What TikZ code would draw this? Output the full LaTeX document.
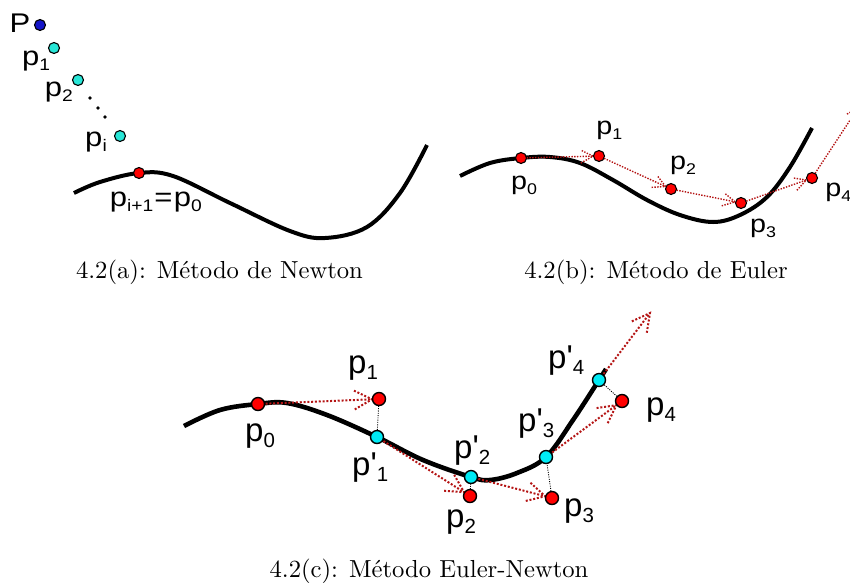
\documentclass[tikz,border=0pt]{standalone}
\usepackage{fontspec}
\usepackage{graphicx}
\usetikzlibrary{calc}
\newfontfamily\labfont{Liberation Sans}
\newfontfamily\capfont{lmroman10-regular}[Extension=.otf]
\definecolor{dotred}{RGB}{255,0,0}
\definecolor{dotcyan}{RGB}{40,230,215}
\definecolor{dotcyanc}{RGB}{0,235,245}
\definecolor{dotblue}{RGB}{20,20,200}
\definecolor{arrred}{RGB}{180,20,20}
\newcommand\lsub[1]{\raisebox{-0.2em}{\scalebox{0.62}{#1}}}
\newcommand\prm{\XeTeXglyph\XeTeXcharglyph"27\relax}
\newcommand\evarrow[4]{%
  \draw[#1] (#2) -- (#3);
  \draw[#1] ($(#3)!#4!28:(#2)$) -- (#3) -- ($(#3)!#4!-28:(#2)$);}
\begin{document}
\begin{tikzpicture}[x=1pt,y=-1pt,
  curveAB/.style={line width=4pt,black},
  curveC/.style={line width=4.6pt,black},
  dotAB/.style={circle,draw=black,line width=1.1pt,minimum size=11pt,inner sep=0pt},
  dotC/.style={circle,draw=black,line width=1.4pt,minimum size=13pt,inner sep=0pt},
  smalldot/.style={circle,fill=black,minimum size=3.6pt,inner sep=0pt},
  arrB/.style={draw=arrred,line width=1.4pt,dash pattern=on 1.4pt off 1.4pt},
  arrC/.style={draw=arrred,line width=2pt,dash pattern=on 2pt off 1.8pt},
  proj/.style={draw=black,line width=0.9pt,dash pattern=on 1pt off 1.3pt},
  labA/.style={font=\labfont\fontsize{27}{30}\selectfont,inner sep=0pt,anchor=base west,xscale=1.15},
  labB/.style={font=\labfont\fontsize{25}{28}\selectfont,inner sep=0pt,anchor=base west,xscale=1.15},
  labC/.style={font=\labfont\fontsize{33}{38}\selectfont,inner sep=0pt,anchor=base west},
  capt/.style={font=\capfont\fontsize{24.65}{28}\selectfont,inner sep=0pt,anchor=base}]
\useasboundingbox (0,0) rectangle (850,582);

% ---------------- (a) Newton ----------------
\draw[curveAB] plot[smooth,tension=0.6] coordinates {(74,193) (100,182) (139,173) (173,176) (230,203) (290,231) (325,238) (367,227) (400,193) (427,145)};
\node[dotAB,fill=dotblue] (aP) at (40,25) {};
\node[dotAB,fill=dotcyan] (a1) at (54,48) {};
\node[dotAB,fill=dotcyan] (a2) at (78,80) {};
\node[dotAB,fill=dotcyan] (ai) at (120,136) {};
\node[dotAB,fill=dotred] (ai1) at (139,173) {};
\node[smalldot] (ad1) at (90,98) {};
\node[smalldot] (ad2) at (98,108) {};
\node[smalldot] (ad3) at (105,117) {};
\node[labA] (laP) at (9.5,32) {P};
\node[labA] (la1) at (22,65.3) {p\lsub{1}};
\node[labA] (la2) at (44.6,96) {p\lsub{2}};
\node[labA] (lai) at (85,146) {p\lsub{i}};
\node[labA] (lai1) at (109.6,206) {p\lsub{i+1}\kern1pt=\kern1pt p\lsub{0}};

% ---------------- (b) Euler ----------------
\draw[curveAB] plot[smooth,tension=0.6] coordinates {(460,176) (490,163) (521,158) (550,157) (580,163) (613,180) (647,200) (680,215) (713,222) (740,215) (767,197) (790,167) (812,128)};
\coordinate (b0) at (521,158);
\coordinate (b1) at (599,156);
\coordinate (b2) at (671,189);
\coordinate (b3) at (741,203);
\coordinate (b4) at (812,178);
\coordinate (b5) at (858,108);
\coordinate (t1) at ($(b1)!6pt!(b0)$);
\coordinate (t2) at ($(b2)!6pt!(b1)$);
\coordinate (t3) at ($(b3)!6pt!(b2)$);
\coordinate (t4) at ($(b4)!6pt!(b3)$);
\evarrow{arrB}{b0}{t1}{14pt}
\evarrow{arrB}{b1}{t2}{14pt}
\evarrow{arrB}{b2}{t3}{14pt}
\evarrow{arrB}{b3}{t4}{14pt}
\evarrow{arrB}{b4}{b5}{14pt}
\node[dotAB,fill=dotred] (bd0) at (b0) {};
\node[dotAB,fill=dotred] (bd1) at (b1) {};
\node[dotAB,fill=dotred] (bd2) at (b2) {};
\node[dotAB,fill=dotred] (bd3) at (b3) {};
\node[dotAB,fill=dotred] (bd4) at (b4) {};
\node[labB] (lb0) at (510.8,189.7) {p\lsub{0}};
\node[labB] (lb1) at (596.1,134) {p\lsub{1}};
\node[labB] (lb2) at (669.8,169.7) {p\lsub{2}};
\node[labB] (lb3) at (749.8,232.7) {p\lsub{3}};
\node[labB] (lb4) at (825.1,196.7) {p\lsub{4}};

% ---------------- (c) Euler-Newton ----------------
\draw[curveC] plot[smooth,tension=0.6] coordinates {(184,426) (220,410) (258,404) (287,403) (327,415) (377,437) (423,460) (471,477) (490,480) (517,473) (546,457) (573,420) (599,380) (606,369)};
\coordinate (c0) at (258,404);
\coordinate (c1) at (379,399);
\coordinate (c2) at (470,496);
\coordinate (c3) at (552,498);
\coordinate (c4) at (622,401);
\coordinate (q1) at (377,437);
\coordinate (q2) at (471,477);
\coordinate (q3) at (546,457);
\coordinate (q4) at (599,380);
\coordinate (c5) at (650,313);
\coordinate (u1) at ($(c1)!7pt!(c0)$);
\coordinate (u2) at ($(c2)!7pt!(q1)$);
\coordinate (u3) at ($(c3)!7pt!(q2)$);
\coordinate (u4) at ($(c4)!7pt!(q3)$);
\draw[proj] (c1) -- (q1);
\draw[proj] (c2) -- (q2);
\draw[proj] (c3) -- (q3);
\draw[proj] (c4) -- (q4);
\evarrow{arrC}{c0}{u1}{20pt}
\evarrow{arrC}{q1}{u2}{20pt}
\evarrow{arrC}{q2}{u3}{20pt}
\evarrow{arrC}{q3}{u4}{20pt}
\evarrow{arrC}{q4}{c5}{20pt}
\node[dotC,fill=dotred] (cd0) at (c0) {};
\node[dotC,fill=dotred] (cd1) at (c1) {};
\node[dotC,fill=dotred] (cd2) at (c2) {};
\node[dotC,fill=dotred] (cd3) at (c3) {};
\node[dotC,fill=dotred] (cd4) at (c4) {};
\node[dotC,fill=dotcyanc] (qd1) at (q1) {};
\node[dotC,fill=dotcyanc] (qd2) at (q2) {};
\node[dotC,fill=dotcyanc] (qd3) at (q3) {};
\node[dotC,fill=dotcyanc] (qd4) at (q4) {};
\node[labC] (lc1) at (348,373) {p\lsub{1}};
\node[labC] (lc0) at (245,441) {p\lsub{0}};
\node[labC] (lq1) at (352,475) {p\prm\lsub{1}};
\node[labC] (lq2) at (454,458) {p\prm\lsub{2}};
\node[labC] (lq3) at (518,431) {p\prm\lsub{3}};
\node[labC] (lq4) at (548,368) {p\prm\lsub{4}};
\node[labC] (lc4) at (646,415) {p\lsub{4}};
\node[labC] (lc3) at (564,516) {p\lsub{3}};
\node[labC] (lc2) at (446,527) {p\lsub{2}};

% ---------------- captions ----------------
\node[capt] (capa) at (219.5,278) {4.2(a): Método de Newton};
\node[capt] (capb) at (656,278) {4.2(b): Método de Euler};
\node[capt] (capc) at (429,577) {4.2(c): Método Euler-Newton};
\end{tikzpicture}
\end{document}
